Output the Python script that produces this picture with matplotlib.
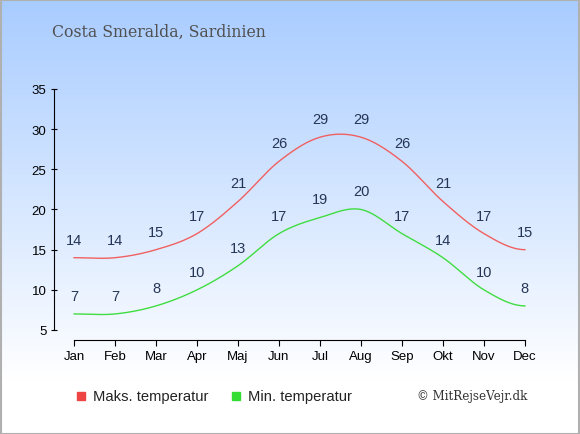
import numpy as np
import matplotlib
matplotlib.use("Agg")
import matplotlib.pyplot as plt
from matplotlib.patches import Rectangle

maaneder = ["Jan", "Feb", "Mar", "Apr", "Maj", "Jun", "Jul", "Aug", "Sep", "Okt", "Nov", "Dec"]
maks_temp = [14, 14, 15, 17, 21, 26, 29, 29, 26, 21, 17, 15]
min_temp = [7, 7, 8, 10, 13, 17, 19, 20, 17, 14, 10, 8]
y_ticks = [5, 10, 15, 20, 25, 30, 35]

titel = "Costa Smeralda, Sardinien"
navn_maks = "Maks. temperatur"
navn_min = "Min. temperatur"
kilde = "\u00a9 MitRejseVejr.dk"


def glat(vals, n=30):
    # catmull-rom kurve gennem punkterne
    v = np.array(vals, dtype=float)
    k = len(v)
    t = np.zeros(k)
    t[1:-1] = (v[2:] - v[:-2]) / 2
    xs, ys = [], []
    for i in range(k - 1):
        s = np.linspace(0, 1, n, endpoint=(i == k - 2))
        h00 = 2 * s**3 - 3 * s**2 + 1
        h10 = s**3 - 2 * s**2 + s
        h01 = -2 * s**3 + 3 * s**2
        h11 = s**3 - s**2
        xs.append(i + s)
        ys.append(h00 * v[i] + h10 * t[i] + h01 * v[i + 1] + h11 * t[i + 1])
    return np.concatenate(xs), np.concatenate(ys)


plt.rcParams['font.family'] = ['Liberation Sans', 'DejaVu Sans']

fig = plt.figure(figsize=(5.8, 4.35), dpi=100)

# baggrund med farveovergang
bg = fig.add_axes([0, 0, 1, 1], zorder=-10)
grad = np.ones((200, 1, 3))
top = np.array([0.66, 0.80, 1.0])
for i in range(200):
    f = min(i / 175.0, 1.0)
    grad[i, 0] = top * (1 - f) + np.array([1, 1, 1]) * f
bg.imshow(grad, aspect='auto', extent=[0, 1, 0, 1], origin='upper')
bg.set_xlim(0, 1)
bg.set_ylim(0, 1)
bg.axis('off')
bg.add_patch(Rectangle((0.001, 0.001), 0.997, 0.997, fill=False, edgecolor='#b0b0b0', linewidth=1.5))

ax = fig.add_axes([54 / 580, (435 - 341) / 435, (545 - 54) / 580, (341 - 90) / 435])
ax.patch.set_alpha(0)
ax.set_xlim(-0.49, 11.49)
ax.set_ylim(5 - 10 / 8.03, 35)

x = np.arange(len(maaneder))
gx, gy = glat(maks_temp)
ax.plot(gx, gy, color='#f06060', linewidth=1)
gx, gy = glat(min_temp)
ax.plot(gx, gy, color='#40dd40', linewidth=1)

for i in x:
    ax.annotate(str(maks_temp[i]), (i, maks_temp[i]), xytext=(0, 13), textcoords='offset points',
                ha='center', va='center', fontsize=10.5, color='#253555')
    ax.annotate(str(min_temp[i]), (i, min_temp[i]), xytext=(0, 13), textcoords='offset points',
                ha='center', va='center', fontsize=10.5, color='#253555')

for s in ['top', 'right']:
    ax.spines[s].set_visible(False)
ax.spines['left'].set_bounds(5, 35)
ax.spines['bottom'].set_bounds(0, 11)
ax.set_yticks(y_ticks)
ax.set_xticks(x)
ax.set_xticklabels(maaneder)
ax.tick_params(axis='y', direction='inout', length=5, labelsize=9.5, pad=3)
ax.tick_params(axis='x', direction='out', length=4, labelsize=9.5, pad=3)

fig.text(52 / 580, 1 - 32 / 435, titel, fontsize=11.3, family='DejaVu Serif', color='#505050', va='center')

# forklaring
fig.patches.append(Rectangle((77 / 580, 1 - 401 / 435), 8 / 580, 8 / 435, color='#ee4444', transform=fig.transFigure))
fig.text(93 / 580, 1 - 397 / 435, navn_maks, fontsize=10.6, color='#222222', va='center')
fig.patches.append(Rectangle((232 / 580, 1 - 401 / 435), 8 / 580, 8 / 435, color='#33dd33', transform=fig.transFigure))
fig.text(248 / 580, 1 - 397 / 435, navn_min, fontsize=10.6, color='#222222', va='center')
fig.text(527 / 580, 1 - 397 / 435, kilde, fontsize=8.6, family='DejaVu Serif', color='#333333', va='center', ha='right')

fig.savefig("out.png", dpi=100)
